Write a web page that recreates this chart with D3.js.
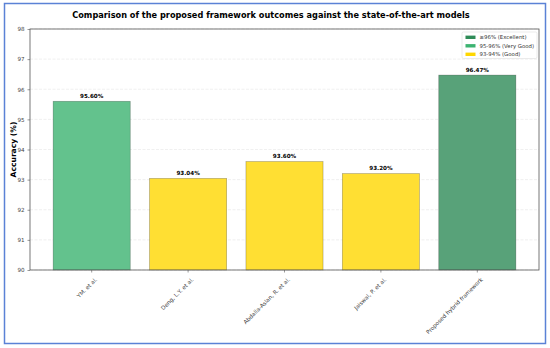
<!DOCTYPE html>
<html>
<head>
<meta charset="utf-8">
<script src="https://cdn.jsdelivr.net/npm/d3@7"></script>
<style>
  html, body { margin: 0; padding: 0; background: #fff; }
  svg { display: block; }
</style>
</head>
<body>
<div id="chart"></div>
<script>
const WIDTH = 550;
const HEIGHT = 348;

// data
const models = ['YM. et al.', 'Deng, L.Y. et al.', 'Abdalla-Aslan, R. et al.', 'Jaiswal, P. et al.', 'Proposed hybrid framework'];
const accuracy = [95.60, 93.04, 93.60, 93.20, 96.47];
const yTicks = [90, 91, 92, 93, 94, 95, 96, 97, 98];
const legendLabels = ['\u226596% (Excellent)', '95-96% (Very Good)', '93-94% (Good)'];
const legendColors = ['#2e8b57', '#3cb371', '#ffd700'];

function barColor(v) {
  if (v >= 96) return '#58a279';
  if (v >= 95) return '#63c28d';
  return '#ffdf33';
}

const plot = { left: 30, right: 539, top: 29, bottom: 270 };

const svg = d3.select('#chart').append('svg')
  .attr('width', WIDTH)
  .attr('height', HEIGHT)
  .style('font-family', 'DejaVu Sans, sans-serif');

// outer frame
svg.append('rect')
  .attr('x', 4.5).attr('y', 3.5)
  .attr('width', 541).attr('height', 340)
  .attr('fill', '#fff')
  .attr('stroke', '#5b82d6')
  .attr('stroke-width', 1.5);

const x = d3.scaleBand()
  .domain(models)
  .range([plot.left, plot.right])
  .paddingInner(0.2)
  .paddingOuter(0.24);

const y = d3.scaleLinear()
  .domain([90, 98])
  .range([plot.bottom, plot.top]);

// grid
svg.append('g')
  .selectAll('line')
  .data(yTicks)
  .join('line')
  .attr('x1', plot.left).attr('x2', plot.right)
  .attr('y1', d => y(d)).attr('y2', d => y(d))
  .attr('stroke', '#e6e6e6')
  .attr('stroke-width', 0.6)
  .attr('stroke-dasharray', '3,1.5');

// bars
svg.append('g')
  .selectAll('rect')
  .data(accuracy)
  .join('rect')
  .attr('x', (d, i) => x(models[i]))
  .attr('y', d => y(d))
  .attr('width', x.bandwidth())
  .attr('height', d => y(90) - y(d))
  .attr('fill', d => barColor(d))
  .attr('stroke', 'rgba(0,0,0,0.3)')
  .attr('stroke-width', 0.7);

// value labels
svg.append('g')
  .selectAll('text')
  .data(accuracy)
  .join('text')
  .attr('x', (d, i) => x(models[i]) + x.bandwidth() / 2)
  .attr('y', d => y(d) - 3.5)
  .attr('text-anchor', 'middle')
  .attr('font-size', 5.6)
  .attr('font-weight', 'bold')
  .attr('fill', '#000')
  .text(d => d.toFixed(2) + '%');

// axes
const yAxis = svg.append('g')
  .attr('transform', `translate(${plot.left},0)`)
  .call(d3.axisLeft(y).tickValues(yTicks).tickSize(2.5).tickPadding(3).tickFormat(d3.format('d')));

const xAxis = svg.append('g')
  .attr('transform', `translate(0,${plot.bottom})`)
  .call(d3.axisBottom(x).tickSize(2.5).tickPadding(3));

xAxis.selectAll('text')
  .attr('text-anchor', 'end')
  .attr('dy', null)
  .attr('transform', 'translate(2,6) rotate(-45)');

[yAxis, xAxis].forEach(a => {
  a.select('.domain').remove();
  a.selectAll('line').attr('stroke', '#555').attr('stroke-width', 0.6);
  a.selectAll('text').attr('font-size', 5.6).attr('fill', '#444').attr('font-family', 'DejaVu Sans, sans-serif');
});

// plot frame
svg.append('rect')
  .attr('x', plot.left).attr('y', plot.top)
  .attr('width', plot.right - plot.left).attr('height', plot.bottom - plot.top)
  .attr('fill', 'none')
  .attr('stroke', '#555')
  .attr('stroke-width', 0.8);

// title
svg.append('text')
  .attr('x', 271)
  .attr('y', 18)
  .attr('text-anchor', 'middle')
  .attr('font-size', 8.2)
  .attr('font-weight', 'bold')
  .attr('fill', '#000')
  .text('Comparison of the proposed framework outcomes against the state-of-the-art models');

// y label
svg.append('text')
  .attr('transform', `translate(16,${(plot.top + plot.bottom) / 2}) rotate(-90)`)
  .attr('text-anchor', 'middle')
  .attr('font-size', 7.6)
  .attr('font-weight', 'bold')
  .attr('fill', '#000')
  .text('Accuracy (%)');

// legend
const lg = svg.append('g').attr('transform', 'translate(462,32)');
lg.append('rect')
  .attr('width', 75).attr('height', 26.5)
  .attr('rx', 1.5)
  .attr('fill', '#fff')
  .attr('stroke', '#ddd')
  .attr('stroke-width', 0.6);
const item = lg.selectAll('g.item')
  .data(legendLabels)
  .join('g')
  .attr('class', 'item')
  .attr('transform', (d, i) => `translate(3.5,${3.6 + i * 8.5})`);
item.append('rect')
  .attr('width', 10).attr('height', 3.4)
  .attr('fill', (d, i) => legendColors[i]);
item.append('text')
  .attr('x', 14).attr('y', 3.8)
  .attr('font-size', 5.4)
  .attr('fill', '#333')
  .text(d => d);
</script>
</body>
</html>
